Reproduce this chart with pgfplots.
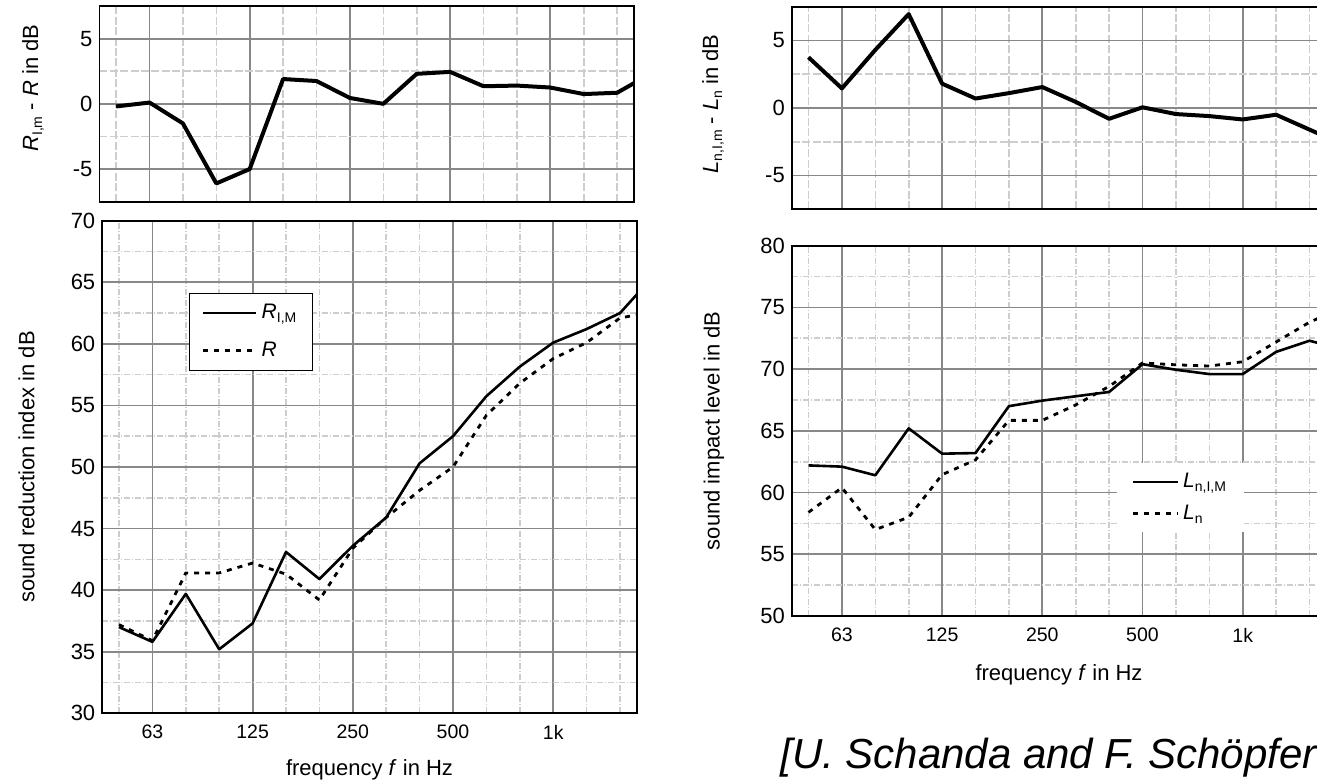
\documentclass[border=0pt]{standalone}
\usepackage{fontspec}
\setmainfont{Liberation Sans}
\usepackage{pgfplots}
\pgfplotsset{compat=1.18}

\definecolor{majgrid}{HTML}{888888}
\definecolor{mingrid}{HTML}{CDCDCD}
\newcommand{\sub}[1]{\raisebox{-2pt}{\fontsize{7}{7}\selectfont #1}}

% 1/3-octave bands, 50 Hz = 0 ... 2 kHz = 16
\pgfplotstableread{
i   dR     RIM    R      dL     LIM    Ln
0   -0.2   37.0   37.2   3.75   62.2   58.4
1   0.1    35.8   35.9   1.45   62.1   60.4
2   -1.5   39.7   41.4   4.3    61.4   57.0
3   -6.1   35.2   41.4   6.95   65.2   58.0
4   -5.0   37.3   42.2   1.8    63.15  61.45
5   1.9    43.1   41.3   0.7    63.2   62.65
6   1.75   40.9   39.2   1.1    67.0   65.85
7   0.45   43.6   43.4   1.55   67.45  65.85
8   0.0    45.9   45.9   0.45   67.8   67.1
9   2.3    50.3   48.1   -0.8   68.15  68.6
10  2.45   52.5   50.0   0.05   70.4   70.5
11  1.35   55.75  54.2   -0.45  69.95  70.35
12  1.4    58.15  56.8   -0.6   69.6   70.25
13  1.25   60.1   58.8   -0.85  69.6   70.6
14  0.75   61.2   60.1   -0.5   71.4   72.2
15  0.85   62.5   62.1   -1.6   72.3   73.8
16  2.3    65.5   62.6   -2.7   71.6   75.0
}\data

\pgfplotsset{
  panel/.style={
    scale only axis, width=267.2pt, anchor=south west,
    xmin=-0.5, xmax=15.5,
    xtick={1,4,7,10,13}, xticklabels={63,125,250,500,1k},
    minor xtick={0,2,3,5,6,8,9,11,12,14,15},
    grid=both,
    major grid style={majgrid, line width=0.9pt},
    major tick length=0pt, minor tick length=0pt,
    axis line style={black, line width=0.9pt},
    xticklabel style={font=\fontsize{9.75}{11}\selectfont, yshift=-2.5pt},
    yticklabel style={font=\fontsize{11}{12}\selectfont},
    label style={font=\fontsize{11}{13}\selectfont},
    legend cell align=left,
  },
  diff/.style={panel, ymin=-7.5, ymax=7.5,
    ytick={-5,0,5}, yticklabels={-5,0,5}, minor ytick={-2.5,2.5},
    xticklabels={},
    minor grid style={mingrid, line width=0.8pt, dash pattern=on 4pt off 1.2pt}},
  main/.style={panel,
    minor grid style={mingrid, line width=0.8pt, dash pattern=on 3pt off 1pt on 0.5pt off 1pt}},
  thickline/.style={black, line width=2pt, line join=round, no markers},
  solidline/.style={black, line width=1.3pt, line join=round, no markers},
  dotline/.style={black, line width=1.4pt, dash pattern=on 2.5pt off 3pt, no markers},
}

\begin{document}
\begin{tikzpicture}
\useasboundingbox (0,0) rectangle (658.5pt,391pt);
\clip (0,0) rectangle (658.5pt,391pt);

% left top: difference R
\begin{axis}[diff, at={(49.7pt,290.15pt)}, height=97.85pt,
  ylabel={\textit{R}\sub{I,m} - \textit{R} in dB},
  ylabel style={at={(axis description cs:-0.1243,0.58)}, anchor=center}]
\addplot[thickline] table[x=i, y=dR] {\data};
\end{axis}

% left bottom: sound reduction index
\begin{axis}[main, at={(51.15pt,34.35pt)}, height=246.3pt,
  ymin=30, ymax=70, ytick={30,35,...,70},
  yticklabels={30,35,40,45,50,55,60,65,70},
  minor ytick={32.5,37.5,...,67.5},
  ylabel={sound reduction index in dB},
  ylabel style={at={(axis description cs:-0.1418,0.5)}, anchor=center},
  xlabel={frequency \textit{f} in Hz},
  xlabel style={at={(axis description cs:0.5,0)}, anchor=base, yshift=-30.85pt},
  legend image code/.code={\draw[#1] (0pt,0pt) -- (26.5pt,0pt);},
  legend style={at={(axis description cs:0.1628,0.8538)}, anchor=north west,
    draw=black, line width=0.6pt, fill=white, inner xsep=6pt, inner ysep=3.5pt,
    row sep=6pt, font=\fontsize{10.5}{12}\selectfont}]
\addplot[solidline] table[x=i, y=RIM] {\data};
\addlegendentry{\textit{R}\sub{I,M}\hspace{3pt}}
\addplot[dotline] table[x=i, y=R] {\data};
\addlegendentry{\textit{R}}
\end{axis}

% right top: difference Ln
\begin{axis}[diff, at={(395.9pt,286.35pt)}, height=101.3pt,
  ylabel={\textit{L}\sub{n,I,m} - \textit{L}\sub{n} in dB},
  ylabel style={at={(axis description cs:-0.1475,0.52)}, anchor=center}]
\addplot[thickline] table[x=i, y=dL] {\data};
\end{axis}

% right bottom: impact sound level
\begin{axis}[main, at={(395.9pt,83pt)}, height=185.15pt,
  ymin=50, ymax=80, ytick={50,55,...,80},
  yticklabels={50,55,60,65,70,75,80},
  minor ytick={52.5,57.5,...,77.5},
  ylabel={sound impact level in dB},
  ylabel style={at={(axis description cs:-0.1456,0.5)}, anchor=center},
  xlabel={frequency \textit{f} in Hz},
  xlabel style={at={(axis description cs:0.5,0)}, anchor=base, yshift=-32.35pt},
  legend image code/.code={\draw[#1] (0pt,0pt) -- (22.5pt,0pt);},
  legend style={at={(axis description cs:0.6085,0.413)}, anchor=north west,
    draw=none, fill=white, inner xsep=7pt, inner ysep=3pt,
    row sep=3pt, font=\fontsize{10.5}{12}\selectfont}]
\addplot[solidline] table[x=i, y=LIM] {\data};
\addlegendentry{\textit{L}\sub{n,I,M}}
\addplot[dotline] table[x=i, y=Ln] {\data};
\addlegendentry{\textit{L}\sub{n}}
\end{axis}

\node[anchor=base west, inner sep=0pt, font=\fontsize{21}{25}\selectfont\itshape]
  at (390pt,7pt) {[U. Schanda and F. Schöpfer};
\end{tikzpicture}
\end{document}
